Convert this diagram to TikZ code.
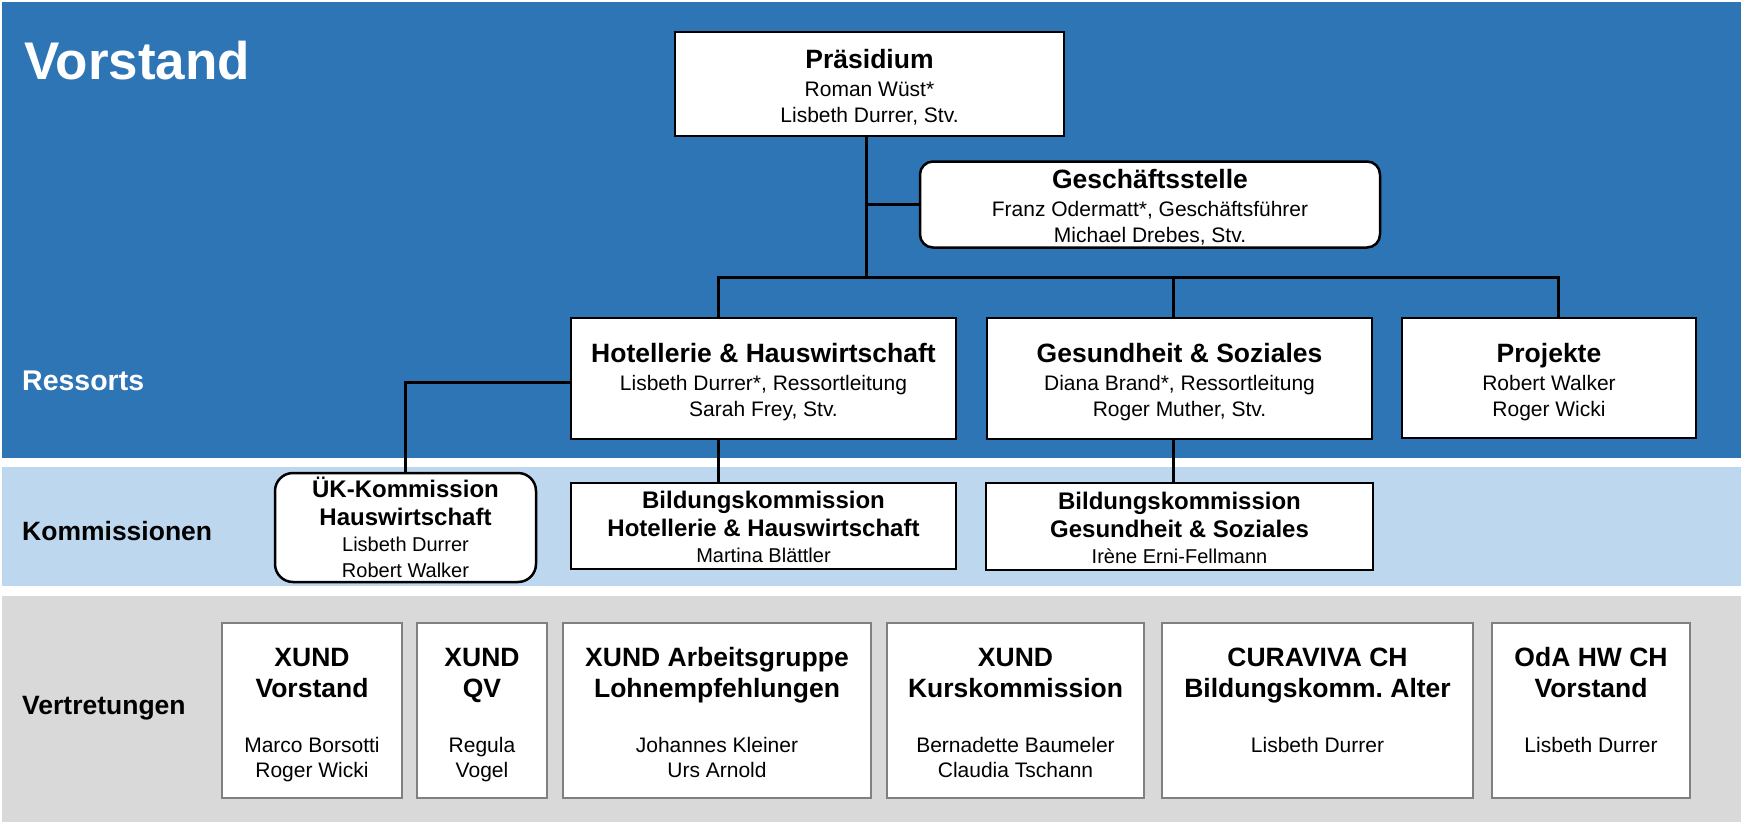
\documentclass[tikz,border=0pt]{standalone}
\usepackage{fontspec}
\setmainfont{Liberation Sans}
\definecolor{vorblau}{RGB}{46,117,182}
\definecolor{komblau}{RGB}{189,215,238}
\definecolor{vertgrau}{RGB}{217,217,217}
\definecolor{rahmengrau}{RGB}{128,128,128}
\newcommand{\kopf}[1]{{\fontsize{26.5}{26}\selectfont\bfseries\rule{0pt}{27pt}#1}}
\newcommand{\tit}[1]{{\fontsize{26.5}{26}\selectfont\bfseries #1}}
\newcommand{\kkopf}[1]{{\fontsize{24}{26}\selectfont\bfseries\rule{0pt}{24pt}#1}}
\newcommand{\ktit}[1]{{\fontsize{24}{26}\selectfont\bfseries #1}}

\begin{document}
\begin{tikzpicture}[x=1pt,y=-1pt,
	box/.style={draw,line width=2.5pt,fill=white,inner sep=0pt,align=center,font=\fontsize{21}{26}\selectfont,execute at end node={\rule[-5pt]{0pt}{5pt}}},
	kbox/.style={box,font=\fontsize{20}{26}\selectfont,execute at end node={\rule[-4pt]{0pt}{4pt}}},
	vtbox/.style={box,draw=rahmengrau,font=\fontsize{21}{25}\selectfont,minimum height=175pt},
	link/.style={line width=3pt},
	ebene/.style={anchor=base west,inner sep=0pt,font=\fontsize{26.5}{30}\selectfont\bfseries}]
	\useasboundingbox (0,0) rectangle (1741,822);
	\fill[vorblau] (2,2) rectangle (1741,458);
	\fill[komblau] (2,467) rectangle (1741,586);
	\fill[vertgrau] (2,596) rectangle (1741,822);
	% Ebenen
	\node[ebene,white,font=\fontsize{53}{58}\selectfont\bfseries] (lvor) at (24,79) {Vorstand};
	\node[ebene,white,font=\fontsize{28.5}{30}\selectfont\bfseries] (lres) at (22,390) {Ressorts};
	\node[ebene] (lkom) at (22,540) {Kommissionen};
	\node[ebene] (lver) at (22,714) {Vertretungen};
	% Vorstand und Ressorts
	\node[box,minimum width=389pt,minimum height=104pt] (pres) at (869.5,84) {\kopf{Präsidium}\\[2pt]Roman Wüst*\\Lisbeth Durrer, Stv.};
	\node[box,rounded corners=13pt,minimum width=460pt,minimum height=85pt] (gst) at (1150,204.5) {\kopf{Geschäftsstelle}\\[2pt]Franz Odermatt*, Geschäftsführer\\Michael Drebes, Stv.};
	\node[box,minimum width=385pt,minimum height=121pt] (hh) at (763.5,378.5) {\kopf{Hotellerie \& Hauswirtschaft}\\[2pt]Lisbeth Durrer*, Ressortleitung\\Sarah Frey, Stv.};
	\node[box,minimum width=385pt,minimum height=121pt] (gsz) at (1179.5,378.5) {\kopf{Gesundheit \& Soziales}\\[2pt]Diana Brand*, Ressortleitung\\Roger Muther, Stv.};
	\node[box,minimum width=294pt,minimum height=120pt] (pj) at (1549,378) {\kopf{Projekte}\\[2pt]Robert Walker\\Roger Wicki};
	% Kommissionen
	\node[kbox,rounded corners=18pt,minimum width=261pt,minimum height=109pt] (uk) at (405.5,527.5) {\kkopf{ÜK-Kommission}\\[2pt]\ktit{Hauswirtschaft}\\Lisbeth Durrer\\Robert Walker};
	\node[kbox,minimum width=385pt,minimum height=86pt] (bkh) at (763.5,526) {\kkopf{Bildungskommission}\\[2pt]\ktit{Hotellerie \& Hauswirtschaft}\\Martina Blättler};
	\node[kbox,minimum width=387pt,minimum height=87pt] (bkg) at (1179.5,526.5) {\kkopf{Bildungskommission}\\[2pt]\ktit{Gesundheit \& Soziales}\\Irène Erni-Fellmann};
	% Vertretungen
	\node[vtbox,minimum width=180pt] (v1) at (312,710.5) {\kopf{XUND}\\[6pt]\tit{Vorstand}\\[30pt]Marco Borsotti\\Roger Wicki};
	\node[vtbox,minimum width=130pt] (v2) at (482,710.5) {\kopf{XUND}\\[6pt]\tit{QV}\\[30pt]Regula\\Vogel};
	\node[vtbox,minimum width=308pt] (v3) at (717,710.5) {\kopf{XUND Arbeitsgruppe}\\[6pt]\tit{Lohnempfehlungen}\\[30pt]Johannes Kleiner\\Urs Arnold};
	\node[vtbox,minimum width=257pt] (v4) at (1015.5,710.5) {\kopf{XUND}\\[6pt]\tit{Kurskommission}\\[30pt]Bernadette Baumeler\\Claudia Tschann};
	\node[vtbox,minimum width=311pt] (v5) at (1317.5,710.5) {\kopf{CURAVIVA CH}\\[6pt]\tit{Bildungskomm.\ Alter}\\[30pt]Lisbeth Durrer\\\mbox{}};
	\node[vtbox,minimum width=198pt] (v6) at (1591,710.5) {\kopf{OdA HW CH}\\[6pt]\tit{Vorstand}\\[30pt]Lisbeth Durrer\\\mbox{}};
	% Linien
	\coordinate (stamm) at (866,277);
	\coordinate (bl) at (718,277);
	\coordinate (bm) at (1173,277);
	\coordinate (br) at (1558,277);
	\draw[link] (stamm |- pres.south) -- (stamm);
	\draw[link] (stamm |- gst.west) -- (gst.west);
	\draw[link] (bl |- hh.north) -- (bl) -- (br) -- (br |- pj.north);
	\draw[link] (bm) -- (bm |- gsz.north);
	\draw[link] (bl |- hh.south) -- (bl |- bkh.north);
	\draw[link] (bm |- gsz.south) -- (bm |- bkg.north);
	\draw[link] ([yshift=-3.5pt]hh.west) -| (uk.north);
\end{tikzpicture}
\end{document}
